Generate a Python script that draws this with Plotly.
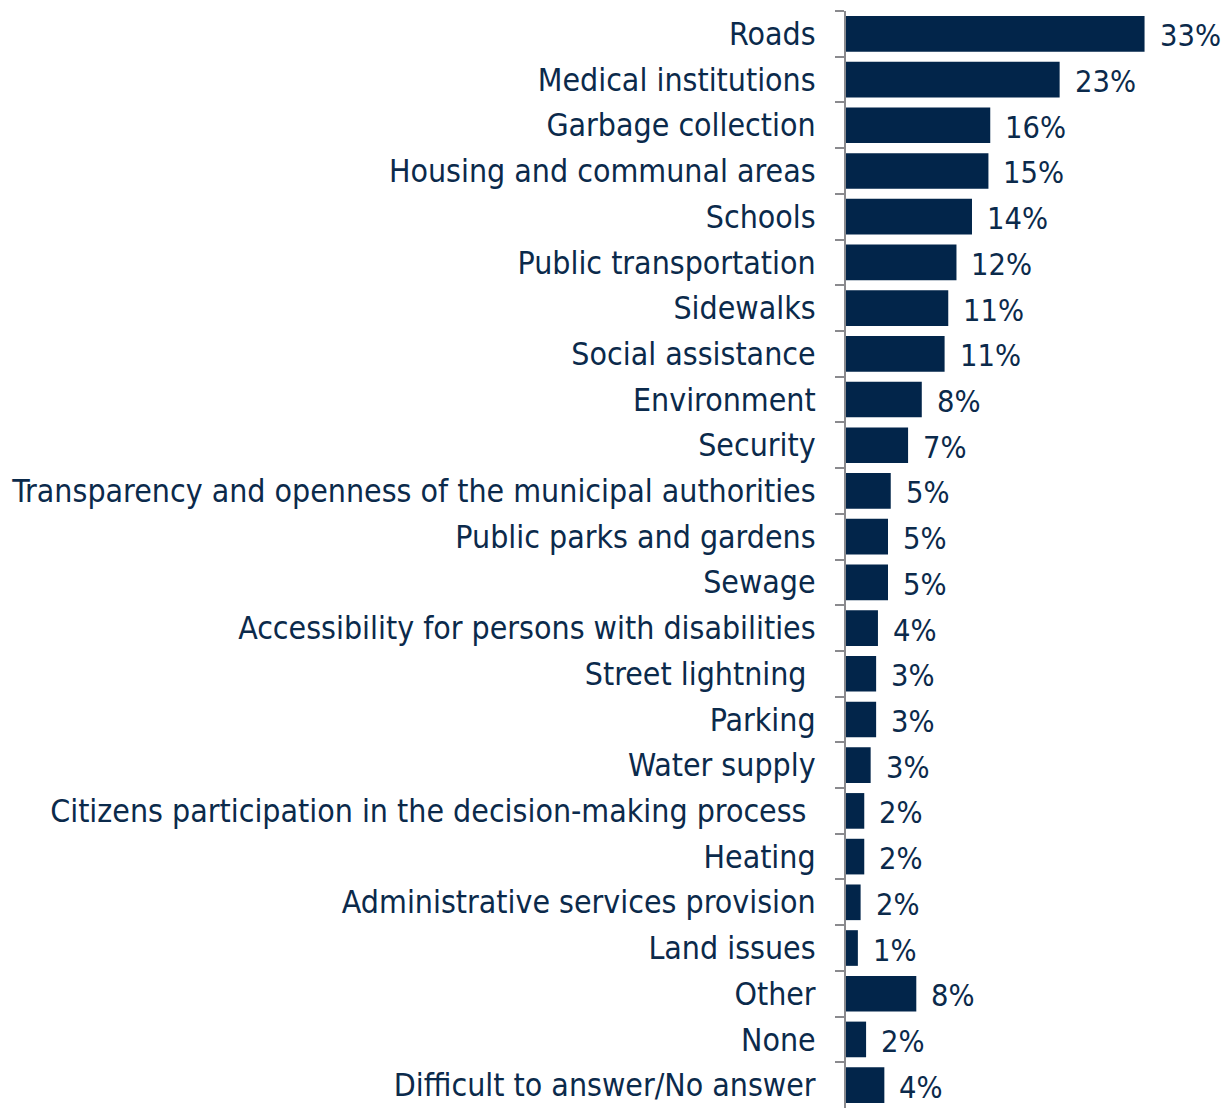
import plotly.graph_objects as go

categories = [
    "Roads", "Medical institutions", "Garbage collection", "Housing and communal areas",
    "Schools", "Public transportation", "Sidewalks", "Social assistance", "Environment",
    "Security", "Transparency and openness of the municipal authorities",
    "Public parks and gardens", "Sewage", "Accessibility for persons with disabilities",
    "Street lightning\u00a0", "Parking", "Water supply",
    "Citizens participation in the decision-making process\u00a0", "Heating",
    "Administrative services provision", "Land issues", "Other", "None",
    "Difficult to answer/No answer",
]
values = [32.7, 23.4, 15.8, 15.6, 13.8, 12.1, 11.2, 10.8, 8.3, 6.8, 4.9, 4.6, 4.6,
          3.5, 3.3, 3.3, 2.7, 2.0, 2.0, 1.6, 1.3, 7.7, 2.2, 4.2]
value_labels = ["33%", "23%", "16%", "15%", "14%", "12%", "11%", "11%", "8%", "7%",
                "5%", "5%", "5%", "4%", "3%", "3%", "3%", "2%", "2%", "2%", "1%",
                "8%", "2%", "4%"]

BAR = "#02254a"
TXT = "#0b2a4b"
FONT = "DejaVu Sans Condensed, DejaVu Sans, sans-serif"

fig = go.Figure()
fig.add_trace(go.Bar(
    x=values, y=categories, orientation="h",
    marker=dict(color=BAR, line=dict(width=0)),
    hoverinfo="skip",
))

for v, c, t in zip(values, categories, value_labels):
    fig.add_annotation(x=v, y=c, text=t, showarrow=False, xanchor="left",
                       yanchor="middle", xshift=13, yshift=-2,
                       font=dict(family=FONT, size=30.5, color=TXT))

fig.update_layout(
    width=1221, height=1102,
    margin=dict(l=838, r=0, t=3, b=2),
    plot_bgcolor="white", paper_bgcolor="white",
    bargap=0.22, showlegend=False,
    font=dict(family=FONT, color=TXT),
)
fig.update_xaxes(range=[0, 41.95], visible=False, showgrid=False, zeroline=False)
fig.update_yaxes(
    autorange="reversed", showgrid=False, zeroline=False,
    showline=True, linecolor="#8a8a8e", linewidth=2,
    ticks="outside", tickson="boundaries", ticklen=9, tickcolor="#8a8a8e", tickwidth=2,
    tickfont=dict(family=FONT, size=31.8, color=TXT),
    ticklabelstandoff=22,
)

fig.write_html("out.html")
